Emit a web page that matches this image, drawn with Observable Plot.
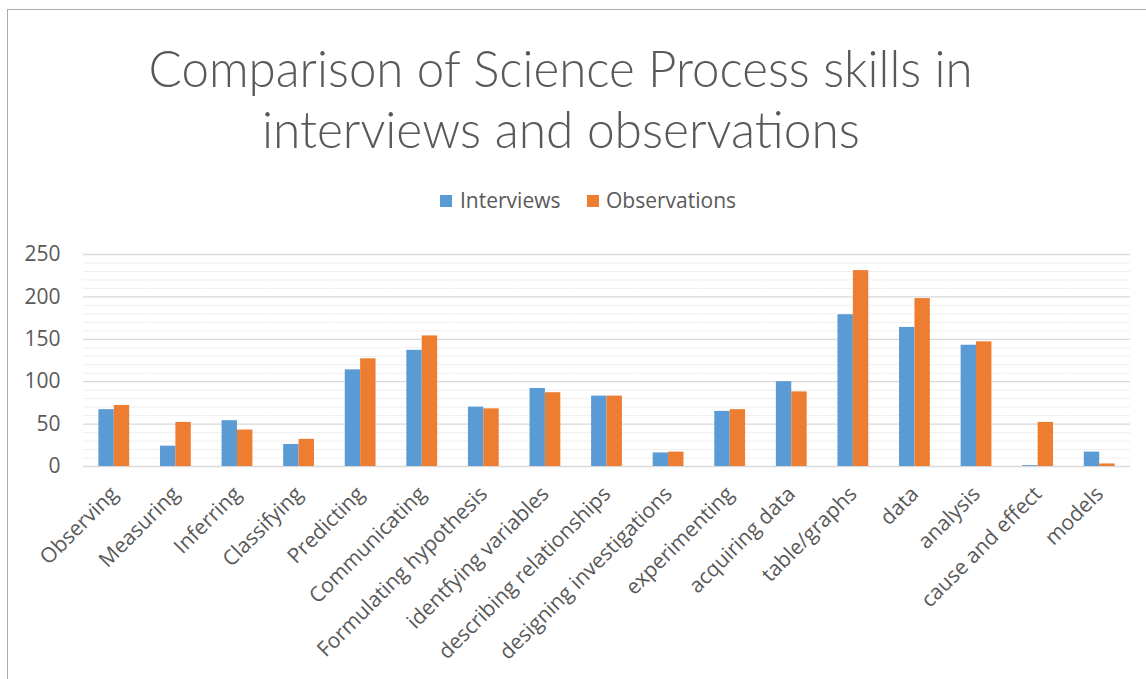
<!DOCTYPE html>
<html>
<head>
<meta charset="utf-8">
<script src="https://cdn.jsdelivr.net/npm/d3@7"></script>
<script src="https://cdn.jsdelivr.net/npm/@observablehq/plot@0.6"></script>
<style>
  html, body { margin: 0; padding: 0; background: #fff; }
  body { width: 1146px; height: 679px; overflow: hidden; position: relative; }
  #frame { position: absolute; left: 7px; top: 9px; width: 1300px; height: 800px;
           border-left: 1.5px solid #ababab; border-top: 1.5px solid #ababab; }
  .title { position: absolute; left: 0; width: 1121px; text-align: center; white-space: nowrap;
           font-family: Lato, "Open Sans", sans-serif; font-weight: 300; font-size: 51px;
           line-height: 61px; height: 61px; color: #595959; }
  .title span { display: inline-block; transform-origin: center; }
  .leg { position: absolute; font-family: "Open Sans", sans-serif; font-size: 21px; line-height: 28px;
         color: #595959; white-space: nowrap; }
  .sw { position: absolute; width: 12px; height: 12px; }
  #chart { position: absolute; left: 0; top: 240px; }
</style>
</head>
<body>
<div id="frame"></div>
<div class="title" style="top:37px"><span id="t1">Comparison of Science Process skills in</span></div>
<div class="title" style="top:98px"><span id="t2">interviews and observations</span></div>
<div class="sw" style="left:440px; top:195px; background:#5b9bd5"></div>
<div class="leg" style="left:460px; top:186px">Interviews</div>
<div class="sw" style="left:587px; top:195px; background:#ed7d31"></div>
<div class="leg" style="left:606px; top:186px">Observations</div>
<div id="chart"></div>
<script>
const skills = ["Observing", "Measuring", "Inferring", "Classifying", "Predicting", "Communicating",
  "Formulating hypothesis", "identfying variables", "describing relationships", "designing investigations",
  "experimenting", "acquiring data", "table/graphs", "data", "analysis", "cause and effect", "models"];
const interviews   = [67, 24, 54, 26, 114, 137, 70, 92, 83, 16, 65, 100, 179, 164, 143, 1, 17];
const observations = [72, 52, 43, 32, 127, 154, 68, 87, 83, 17, 67, 88, 231, 198, 147, 52, 3];
const seriesNames = ["Interviews", "Observations"];
const seriesColors = ["#5b9bd5", "#ed7d31"];
const yTicks = [0, 50, 100, 150, 200, 250];
const yMinor = [10, 20, 30, 40, 60, 70, 80, 90, 110, 120, 130, 140, 160, 170, 180, 190, 210, 220, 230, 240];

const rows = [];
skills.forEach((s, i) => {
  rows.push({skill: s, series: seriesNames[0], value: interviews[i]});
  rows.push({skill: s, series: seriesNames[1], value: observations[i]});
});

const chart = Plot.plot({
  width: 1146,
  height: 439,
  marginTop: 14,
  marginBottom: 213,
  marginLeft: 83,
  marginRight: 16,
  style: {fontFamily: "'Open Sans', sans-serif", fontSize: "21px", color: "#595959", background: "transparent"},
  fx: {domain: skills, padding: 0, round: false, label: null},
  x: {domain: seriesNames, paddingInner: 0, paddingOuter: 1, round: false, axis: null},
  y: {domain: [0, 250], label: null},
  color: {domain: seriesNames, range: seriesColors},
  marks: [
    Plot.ruleY(yMinor, {stroke: "#efefef", strokeWidth: 1}),
    Plot.ruleY(yTicks, {stroke: "#d9d9d9", strokeWidth: 1.3}),
    Plot.barY(rows, {fx: "skill", x: "series", y: "value", fill: "series"}),
    Plot.axisY({ticks: yTicks, tickSize: 0, tickPadding: 23, fontSize: 21, fill: "#595959", label: null}),
    Plot.axisFx({anchor: "bottom", tickRotate: -45, tickSize: 0, tickPadding: 24, fontSize: 21, fill: "#595959", label: null})
  ]
});
document.getElementById("chart").appendChild(chart);

function fit(id, target) {
  const el = document.getElementById(id);
  const w = el.getBoundingClientRect().width;
  if (w > 0) el.style.transform = `scaleX(${target / w})`;
}
fit("t1", 824);
fit("t2", 598);
</script>
</body>
</html>
